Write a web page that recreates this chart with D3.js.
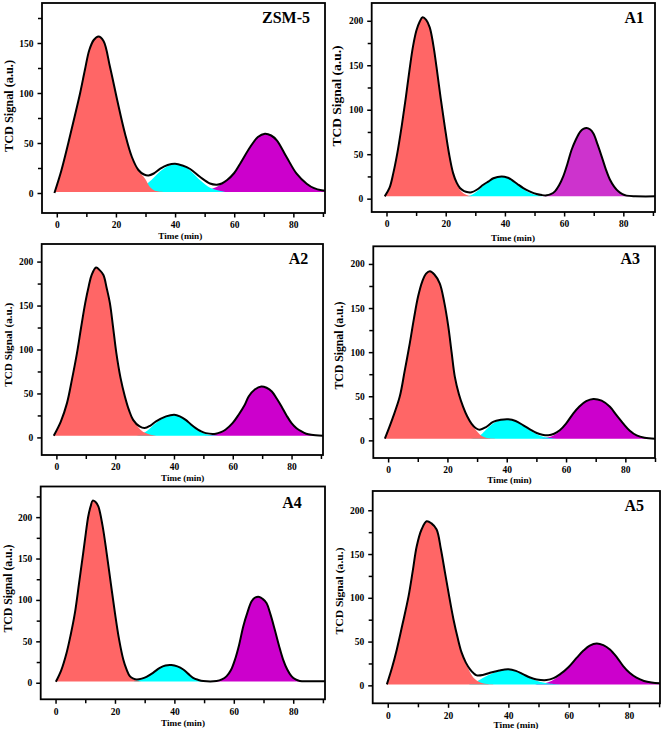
<!DOCTYPE html>
<html><head><meta charset="utf-8">
<script src="https://cdn.jsdelivr.net/npm/d3@7"></script>
<style>
html,body{margin:0;padding:0;background:#fff;}
svg{display:block;}
text{font-family:"Liberation Serif","Times New Roman",serif;font-weight:bold;fill:#000;}
</style></head>
<body>
<svg id="chart" width="661" height="729"></svg>
<script>
// ---------------- DATA ----------------
const panelNames = ["ZSM-5", "A1", "A2", "A3", "A4", "A5"];
const xMajorTicks = [0, 20, 40, 60, 80];
const xMinorTicks = [10, 30, 50, 70, 90];
const yMajorTicks = [0, 50, 100, 150, 200];
const yMinorTicks = [25, 75, 125, 175, 225];
const xTitle = "Time (min)";
const yTitle = "TCD Signal (a.u.)";
const baselines = [1, 2.6, 1.9, 1.9, 1.5, 1.1];

// ZSM-5
const envZSM5 = [[-0.8,0],[1.5,22],[3.9,50],[6,76],[7.9,100],[9.5,123],[11,143],[12.5,153],[14.1,156.5],[15.8,152],[18,126],[20.5,92],[23.1,59],[25.4,36],[27.6,23],[29.5,18.5],[31,17.5],[32.8,19.5],[35,24.3],[37.5,28],[40,29.3],[42.5,27.5],[45.1,24],[48.5,16],[51.8,9.5],[54.1,8.3],[55.8,9.5],[57.5,12.7],[60,20],[62,29.3],[65.4,46],[68,56],[70.4,59.3],[72.5,57.5],[74.4,52.7],[77.7,36],[81.1,19.3],[84.5,9.3],[87,4.8],[89.6,2.7],[90.7,2.5]];
const redZSM5 = [[-0.8,0],[1.5,22],[3.9,50],[6,76],[7.9,100],[9.5,123],[11,143],[12.5,153],[14.1,156.5],[15.8,152],[18,126],[20.5,92],[23.1,59],[25.4,36],[27.6,23],[29.9,14],[31.5,6],[33,2.5],[35,1.2],[38,1]];
const cyanZSM5 = [[26,1],[28,4],[30,8],[32,13],[34,19],[36,24],[38,27.5],[40,29],[42,28],[44,25],[46,20],[48,14],[50,9],[52,5],[54,3],[57,1]];
const magZSM5 = [[48,1],[51,3],[54,6],[57,11.5],[60,20],[62,28.5],[65.4,45.5],[68,56],[70.4,59.3],[72.5,57.5],[74.4,52.7],[77.7,36],[81.1,19.3],[84.5,9],[87,4.5],[89.6,2.5],[90.7,2.3]];

// A1
const envA1 = [[-0.6,2.6],[1,12],[2.3,28.7],[3.7,52],[5.1,80.8],[6.5,113],[7.9,148],[9,172],[10.1,189],[11.2,199],[12.2,204],[13.4,201],[14.6,192.6],[15.8,173],[16.9,148],[18.3,113],[19.7,80.8],[21.1,51],[22.5,28.7],[23.7,18],[24.8,12],[26.2,8.5],[27.6,7.2],[28.7,7.1],[30.5,10],[32.7,15.6],[34.5,19.5],[36.1,23],[38.9,25],[41,23.5],[42.3,21.2],[44.2,16.5],[46.2,11.9],[48.5,8],[50.7,5.2],[52.5,4],[54.1,3.7],[55.5,5],[56.9,8.2],[58.3,15],[59.7,25],[61.1,39],[62.5,54.7],[63.9,66],[65.4,75.2],[66.5,78.5],[67.6,79.5],[68.7,78],[69.9,73.3],[71.3,61],[72.7,47.3],[74.1,33],[75.5,21.2],[76.9,13.5],[78.3,8.2],[79.7,5],[81.1,3.4],[84,2.7],[90.7,2.6]];
const redA1 = [[-0.6,2.6],[1,12],[2.3,28.7],[3.7,52],[5.1,80.8],[6.5,113],[7.9,148],[9,172],[10.1,189],[11.2,199],[12.2,204],[13.4,201],[14.6,192.6],[15.8,173],[16.9,148],[18.3,113],[19.7,80.8],[21.1,51],[22.5,28.7],[23.7,17],[24.8,10],[26.2,5.5],[27.6,3.5],[29,2.7],[31,2.6]];
const cyanA1 = [[27,2.6],[28.7,4],[30.5,8],[32.7,14.5],[34.5,19],[36.1,22.5],[38.9,25],[41,23.5],[42.3,21],[44.2,16],[46.2,11],[48.5,6.5],[50.7,4],[53,2.8],[55,2.6]];
const magA1 = [[52,2.6],[54.1,3.3],[55.5,4.8],[56.9,8],[58.3,15],[59.7,25],[61.1,39],[62.5,54.7],[63.9,66],[65.4,75.2],[66.5,78.5],[67.6,79.5],[68.7,78],[69.9,73.3],[71.3,61],[72.7,47.3],[74.1,33],[75.5,21.2],[76.9,13.5],[78.3,8.2],[79.7,5],[81.1,3.4],[83,2.7],[85,2.6]];

// A2
const envA2 = [[-0.9,1.9],[1.5,18],[3.6,39],[5.3,66],[7,95.8],[8.4,125],[9.8,152.7],[11,172],[12,184.8],[13.5,193.2],[14.8,190],[16,184.8],[17.1,170],[18.2,152.7],[19.3,125],[20.4,95.8],[21.8,68],[23.3,46.6],[24.7,31],[26.1,20],[28.3,12.5],[30,10.6],[32,13.5],[33.9,18.2],[37.3,23.9],[40.1,25.8],[42,24],[44,20],[45.7,15],[47.4,10.6],[49,7.3],[50.8,4.9],[54.2,4.2],[56,6],[57.5,8.7],[60,16.5],[62,25.8],[64,36.5],[65.4,46.6],[67.5,54.5],[69.7,58],[71.5,56.5],[73.3,52.3],[75,44],[76.6,35.2],[78.3,25],[80,16.3],[81.7,10.5],[83.4,6.8],[85,4.2],[86.7,3],[90.7,1.9]];
const redA2 = [[-0.9,1.9],[1.5,18],[3.6,39],[5.3,66],[7,95.8],[8.4,125],[9.8,152.7],[11,172],[12,184.8],[13.5,193.2],[14.8,190],[16,184.8],[17.1,170],[18.2,152.7],[19.3,125],[20.4,95.8],[21.8,68],[23.3,46.6],[24.7,31],[26.1,20],[28.3,10],[30,5.5],[32,3],[34,2],[36,1.9]];
const cyanA2 = [[27,1.9],[29,4],[31,8],[33.9,16.5],[37.3,23.5],[40.1,25.8],[42,24],[44,19.5],[45.7,14.5],[47.4,10],[49,6.5],[50.8,4],[53,2.5],[56,1.9]];
const magA2 = [[50,1.9],[52,2.5],[54.2,3.8],[56,5.8],[57.5,8.6],[60,16.5],[62,25.8],[64,36.5],[65.4,46.6],[67.5,54.5],[69.7,58],[71.5,56.5],[73.3,52.3],[75,44],[76.6,35.2],[78.3,25],[80,16.3],[81.7,10.5],[83.4,6.8],[85,4.2],[86.7,2.8],[88.5,1.9]];

// A3
const envA3 = [[-1.1,1.9],[1.5,25],[3.9,49.3],[5.6,79],[7.3,110],[8.7,138],[10.1,163],[11.5,180],[12.8,189],[14.1,191.6],[15.6,188],[17.4,178],[18.9,157],[20.3,129],[21.4,100],[22.5,72],[23.9,52],[25.3,38],[26.7,27],[28.1,19],[29.5,14],[30.9,12.1],[33,15],[35.4,20.9],[38,23.3],[40.5,23.9],[43,22],[45.6,17],[47.8,12.5],[50.1,8.3],[52,6.3],[54,5.7],[56,7.5],[57.9,11.4],[60,19],[62.4,30.4],[64.5,38.5],[66.8,44.5],[69.2,47],[72,45],[74.8,38],[77,28.5],[79.3,19],[81.5,11],[83.8,5.7],[86.5,3],[90,1.9]];
const redA3 = [[-1.1,1.9],[1.5,25],[3.9,49.3],[5.6,79],[7.3,110],[8.7,138],[10.1,163],[11.5,180],[12.8,189],[14.1,191.6],[15.6,188],[17.4,178],[18.9,157],[20.3,129],[21.4,100],[22.5,72],[23.9,52],[25.3,38],[26.7,27],[28.1,19],[29.5,12],[31,6.5],[32.5,3.5],[34,2.3],[36,1.9]];
const cyanA3 = [[28,1.9],[30,4],[31.5,7],[33,12],[35.4,19],[38,23],[40.5,23.9],[43,22],[45.6,16.5],[47.8,11.5],[50.1,7],[52,4.5],[54,3],[57,1.9]];
const magA3 = [[51,1.9],[53,3],[55,4.5],[57,8],[57.9,10.5],[60,18.5],[62.4,30.4],[64.5,38.5],[66.8,44.5],[69.2,47],[72,45],[74.8,38],[77,28.5],[79.3,19],[81.5,11],[83.8,5.7],[86.5,3],[89,1.9]];

// A4
const envA4 = [[0.1,1.2],[1.9,15],[3.7,36],[5.1,58],[6.5,84],[7.9,120],[9.3,156.6],[10.2,181],[11,200.8],[11.8,213],[12.5,220],[13.4,218.5],[14.4,212.9],[15.8,190],[17.2,156.6],[18.6,120],[20,84],[21.4,52],[22.8,28],[23.9,16],[25,8],[26.2,5],[27.3,4],[29,5],[30.6,7.2],[32.8,12],[35.1,18],[37,20.8],[39,21.3],[41,19.8],[43,16],[44.6,11],[46.3,6],[48,3.5],[49.7,2],[54.2,2],[56,4],[57.6,8],[59,15],[60.4,28],[61.8,46],[63.2,68.3],[64.6,85],[66,98.4],[67.3,103],[68.6,103.6],[69.8,101],[71,96.4],[72.4,82],[73.8,64],[75.2,45],[76.6,28],[78,16],[79.4,8],[80.8,4],[82.2,2.2],[85,1.8],[90.7,1.7]];
const redA4 = [[0.1,1.2],[1.9,15],[3.7,36],[5.1,58],[6.5,84],[7.9,120],[9.3,156.6],[10.2,181],[11,200.8],[11.8,213],[12.5,220],[13.4,218.5],[14.4,212.9],[15.8,190],[17.2,156.6],[18.6,120],[20,84],[21.4,52],[22.8,28],[23.9,15.5],[25,7.5],[26.2,4],[27.5,2.5],[29,1.6],[31,1.5]];
const cyanA4 = [[26,1.5],[27.3,2.8],[29,4.5],[30.6,7],[32.8,12],[35.1,18],[37,20.8],[39,21.3],[41,19.8],[43,16],[44.6,11],[46.3,6],[48,3.2],[49.7,1.8],[51,1.5]];
const magA4 = [[53,1.5],[54.2,2],[56,4],[57.6,8],[59,15],[60.4,28],[61.8,46],[63.2,68.3],[64.6,85],[66,98.4],[67.3,103],[68.6,103.6],[69.8,101],[71,96.4],[72.4,82],[73.8,64],[75.2,45],[76.6,28],[78,16],[79.4,8],[80.8,4],[82.2,2.2],[84,1.5]];

// A5
const envA5 = [[-0.3,1.1],[1.4,20],[3,41],[4.9,70],[6.9,101.9],[8.3,131],[9.6,158.9],[11.2,178],[12.9,187.5],[14.5,185],[16.2,178],[17.6,156],[19,128.5],[20.4,101],[21.8,75.3],[23.2,54],[24.5,37.3],[25.9,26],[27.3,18.3],[28.4,14],[29.5,11.4],[31.5,11.8],[33.9,14.4],[37,17],[40,18.3],[42.5,16.5],[45,12.5],[47.2,9],[49.4,6.8],[52.7,6.1],[55,8.2],[57.1,12.5],[60,21],[62.7,31.6],[65,40],[67,45.5],[69.3,47.9],[71.5,46],[73.7,41],[76,32],[78.1,22],[80.3,14],[82.5,8.7],[85,5],[87.5,3.2],[90.3,2.3]];
const redA5 = [[-0.3,1.1],[1.4,20],[3,41],[4.9,70],[6.9,101.9],[8.3,131],[9.6,158.9],[11.2,178],[12.9,187.5],[14.5,185],[16.2,178],[17.6,156],[19,128.5],[20.4,101],[21.8,75.3],[23.2,54],[24.5,37.3],[25.9,25],[27.3,15],[28.6,8],[30,4.5],[31.5,2.5],[33,1.5],[35,1.1]];
const cyanA5 = [[27,1.1],[28.6,3],[30.2,5.8],[31.5,8.5],[33.9,12.5],[37,16.5],[40,18.3],[42.5,16.5],[45,12],[47.2,8],[49.4,5.2],[51.5,3.2],[54,1.8],[57,1.1]];
const magA5 = [[49,1.1],[51,2],[52.7,3],[55,6.5],[57.1,11.5],[60,20.5],[62.7,31.6],[65,40],[67,45.5],[69.3,47.9],[71.5,46],[73.7,41],[76,32],[78.1,22],[80.3,14],[82.5,8.7],[85,5],[87.5,3],[89.5,2],[90.3,1.9]];

const envelopes = [envZSM5, envA1, envA2, envA3, envA4, envA5];
const redPeaks = [redZSM5, redA1, redA2, redA3, redA4, redA5];
const cyanPeaks = [cyanZSM5, cyanA1, cyanA2, cyanA3, cyanA4, cyanA5];
const magPeaks = [magZSM5, magA1, magA2, magA3, magA4, magA5];

// ---------------- LAYOUT (pixels / domains) ----------------
const layout = [
  {l:42,   r:325, t:3,     b:213,   xMin:-5, xMax:90.7, yMin:-20, yMax:190,
   yt:{x:13,  y:106,   len:92},  xt:{x:180.3, y:239, len:44},   title:{x:310, y:23.3}},
  {l:371.7,r:655, t:3,     b:212,   xMin:-5, xMax:90.7, yMin:-15, yMax:220,
   yt:{x:341, y:96,    len:101}, xt:{x:513,   y:240.5,   len:44},   title:{x:644, y:23.3}},
  {l:41.7, r:323, t:244,   b:455,   xMin:-5, xMax:90.7, yMin:-20, yMax:220,
   yt:{x:12,  y:344.7, len:84},  xt:{x:182.7, y:481, len:43.3}, title:{x:308.3, y:263.7}},
  {l:373.3,r:655, t:246.3, b:458,   xMin:-5, xMax:90,   yMin:-20, yMax:220,
   yt:{x:343, y:345.5, len:88},  xt:{x:509.5, y:482.5,   len:44.3}, title:{x:640, y:263.7}},
  {l:40.7, r:325, t:486.5, b:699.3, xMin:-5, xMax:90.7, yMin:-20, yMax:237,
   yt:{x:11.5,y:588.5, len:88},  xt:{x:183,   y:725.5,   len:44},   title:{x:301.7, y:507.7}},
  {l:372.7,r:660, t:491,   b:703.3, xMin:-5, xMax:90.3, yMin:-20.5, yMax:222,
   yt:{x:343, y:591,   len:87},  xt:{x:516,   y:727.5, len:45},   title:{x:644, y:511}}
];
const colors = {red:"#FF6666", cyan:"#00FFFF", mag:"#CC00CC", magA1:"#CD33CD"};

// ---------------- DRAW ----------------
const svg = d3.select("#chart");

layout.forEach((L, i) => {
  const x = d3.scaleLinear().domain([L.xMin, L.xMax]).range([L.l, L.r]);
  const y = d3.scaleLinear().domain([L.yMin, L.yMax]).range([L.b, L.t]);
  const g = svg.append("g");
  const clipId = "clip" + i;
  svg.append("clipPath").attr("id", clipId).append("rect")
    .attr("x", L.l).attr("y", L.t).attr("width", L.r - L.l).attr("height", L.b - L.t);

  const base = baselines[i];
  const area = d3.area().x(d => x(d[0])).y0(y(base)).y1(d => y(d[1]))
    .curve(d3.curveCatmullRom.alpha(0.5));
  const line = d3.line().x(d => x(d[0])).y(d => y(d[1]))
    .curve(d3.curveCatmullRom.alpha(0.5));

  const plot = g.append("g").attr("clip-path", `url(#${clipId})`);
  plot.append("path").datum(magPeaks[i]).attr("d", area)
    .attr("fill", i === 1 ? colors.magA1 : colors.mag);
  plot.append("path").datum(cyanPeaks[i]).attr("d", area).attr("fill", colors.cyan);
  plot.append("path").datum(redPeaks[i]).attr("d", area).attr("fill", colors.red);
  plot.append("path").datum(envelopes[i]).attr("d", line)
    .attr("fill", "none").attr("stroke", "#000").attr("stroke-width", 2)
    .attr("stroke-linejoin", "round");

  // axes
  const yMaj = yMajorTicks.filter(v => v >= L.yMin && v <= L.yMax);
  const yMin = yMinorTicks.filter(v => v >= L.yMin && v <= L.yMax);
  const xMaj = xMajorTicks.filter(v => v >= L.xMin && v <= L.xMax);
  const xMin = xMinorTicks.filter(v => v >= L.xMin && v <= L.xMax + 0.5);

  const ax = g.append("g").attr("transform", `translate(0,${L.b})`)
    .call(d3.axisBottom(x).tickValues(xMaj).tickSize(4.5).tickPadding(4).tickFormat(d3.format("d")));
  const axm = g.append("g").attr("transform", `translate(0,${L.b})`)
    .call(d3.axisBottom(x).tickValues(xMin).tickSize(4).tickFormat(""));
  const ay = g.append("g").attr("transform", `translate(${L.l},0)`)
    .call(d3.axisLeft(y).tickValues(yMaj).tickSize(4.5).tickPadding(4).tickFormat(d3.format("d")));
  const aym = g.append("g").attr("transform", `translate(${L.l},0)`)
    .call(d3.axisLeft(y).tickValues(yMin).tickSize(4).tickFormat(""));
  [ax, axm, ay, aym].forEach(a => {
    a.select(".domain").remove();
    a.selectAll("line").attr("stroke", "#000").attr("stroke-width", 1.5);
    a.selectAll("text").attr("font-family", "Liberation Serif, Times New Roman, serif")
      .attr("font-weight", "bold").attr("font-size", 9.5).attr("fill", "#000");
  });

  // frame
  g.append("rect").attr("x", L.l).attr("y", L.t)
    .attr("width", L.r - L.l).attr("height", L.b - L.t)
    .attr("fill", "none").attr("stroke", "#000").attr("stroke-width", 1.8);

  // titles
  g.append("text").attr("x", L.xt.x).attr("y", L.xt.y).attr("text-anchor", "middle")
    .attr("font-size", 9).attr("textLength", L.xt.len).attr("lengthAdjust", "spacingAndGlyphs")
    .text(xTitle);
  g.append("text").attr("transform", `translate(${L.yt.x},${L.yt.y}) rotate(-90)`)
    .attr("text-anchor", "middle").attr("font-size", 11.5 * L.yt.len / 88)
    .attr("textLength", L.yt.len).attr("lengthAdjust", "spacingAndGlyphs")
    .text(yTitle);
  g.append("text").attr("x", L.title.x).attr("y", L.title.y).attr("text-anchor", "end")
    .attr("font-size", 16).text(panelNames[i]);
});
</script>
</body></html>
